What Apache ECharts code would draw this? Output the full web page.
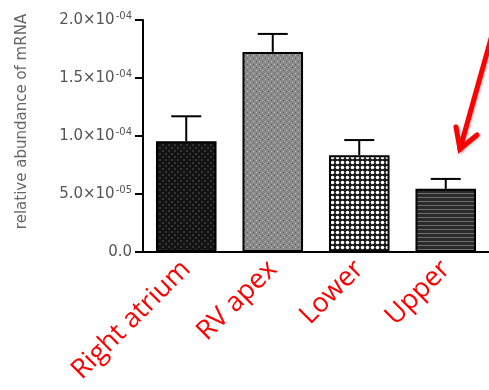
<!DOCTYPE html>
<html>
<head>
<meta charset="utf-8">
<script src="https://cdn.jsdelivr.net/npm/echarts@6/dist/echarts.min.js"></script>
<style>
html,body{margin:0;padding:0;background:#fff;}
#chart{width:489px;height:390px;}
</style>
</head>
<body>
<div id="chart"></div>
<script>
var categories = ['Right atrium', 'RV apex', 'Lower', 'Upper'];
var means = [9.55e-5, 1.725e-4, 8.35e-5, 5.45e-5];
var upperErr = [1.17e-4, 1.88e-4, 9.65e-5, 6.3e-5];
var yTicks = [0, 5e-5, 1e-4, 1.5e-4, 2e-4];
var yTickLabels = ['0.0', '5.0×10|-05', '1.0×10|-04', '1.5×10|-04', '2.0×10|-04'];

function makePattern(size, draw) {
  var c = document.createElement('canvas');
  c.width = size; c.height = size;
  var ctx = c.getContext('2d');
  draw(ctx);
  return { image: c, repeat: 'repeat' };
}
var patterns = [
  makePattern(6, function (ctx) {
    ctx.fillStyle = '#121212'; ctx.fillRect(0, 0, 6, 6);
    ctx.fillStyle = '#353535'; ctx.fillRect(0, 0, 2, 2); ctx.fillRect(3, 3, 2, 2);
  }),
  makePattern(6, function (ctx) {
    ctx.fillStyle = '#8a8a8a'; ctx.fillRect(0, 0, 6, 6);
    ctx.fillStyle = '#c4c4c4'; ctx.fillRect(1, 1, 1, 1); ctx.fillRect(4, 4, 1, 1);
    ctx.fillStyle = '#5a5a5a'; ctx.fillRect(4, 1, 1, 1); ctx.fillRect(1, 4, 1, 1);
  }),
  makePattern(5, function (ctx) {
    ctx.fillStyle = '#1a1a1a'; ctx.fillRect(0, 0, 5, 5);
    ctx.fillStyle = '#ffffff'; ctx.beginPath(); ctx.arc(2.5, 2.5, 1.8, 0, Math.PI * 2); ctx.fill();
  }),
  makePattern(4, function (ctx) {
    ctx.fillStyle = '#2a2a2a'; ctx.fillRect(0, 0, 4, 4);
    ctx.fillStyle = '#6e6e6e'; ctx.fillRect(0, 1, 4, 1);
  })
];

var barData = means.map(function (v, i) {
  return { value: v, itemStyle: { color: patterns[i] } };
});
var errData = means.map(function (v, i) { return [i, v, upperErr[i]]; });

var chart = echarts.init(document.getElementById('chart'), null, { renderer: 'canvas' });
chart.setOption({
  animation: false,
  backgroundColor: '#ffffff',
  grid: { left: 143, top: 20, width: 349, bottom: 138, containLabel: false },
  xAxis: {
    type: 'category',
    data: categories,
    axisLine: { lineStyle: { color: '#000', width: 2 } },
    axisTick: { alignWithLabel: true, length: 6, lineStyle: { color: '#000', width: 2 } },
    axisLabel: {
      rotate: 45, margin: 13, color: '#ff0000',
      fontFamily: 'Open Sans', fontSize: 27, interval: 0
    }
  },
  yAxis: {
    type: 'value', min: 0, max: 2e-4, interval: 5e-5,
    name: 'relative abundance of mRNA',
    nameLocation: 'middle', nameRotate: 90, nameGap: 113,
    nameTextStyle: { color: '#666', fontFamily: 'DejaVu Sans', fontSize: 15, padding: [0, 0, 0, 29] },
    splitLine: { show: false },
    axisLine: { show: true, lineStyle: { color: '#000', width: 2 } },
    axisTick: { show: true, length: 8, lineStyle: { color: '#000', width: 2 } },
    axisLabel: {
      margin: 11, color: '#555', fontFamily: 'DejaVu Sans', fontSize: 15,
      formatter: function (v) {
        var idx = -1;
        for (var i = 0; i < yTicks.length; i++) { if (Math.abs(yTicks[i] - v) < 1e-9) idx = i; }
        if (idx < 0) return '';
        var t = yTickLabels[idx].split('|');
        if (t.length === 1) return '{b|' + t[0] + '}';
        return '{b|' + t[0] + '}{s|' + t[1] + '}';
      },
      rich: {
        b: { fontSize: 15, color: '#555', fontFamily: 'DejaVu Sans', lineHeight: 18 },
        s: { fontSize: 10, color: '#555', fontFamily: 'DejaVu Sans', verticalAlign: 'top', lineHeight: 18, padding: [0, 0, 6, 1] }
      }
    }
  },
  series: [
    {
      type: 'bar', data: barData, barWidth: '70%',
      itemStyle: { borderColor: '#000', borderWidth: 2 }, z: 2
    },
    {
      type: 'custom', data: errData, z: 3,
      renderItem: function (params, api) {
        var i = api.value(0);
        var top = api.coord([i, api.value(2)]);
        var base = api.coord([i, api.value(1)]);
        var hw = 15;
        var st = { stroke: '#000', lineWidth: 2 };
        return {
          type: 'group',
          children: [
            { type: 'line', shape: { x1: top[0], y1: base[1], x2: top[0], y2: top[1] }, style: st },
            { type: 'line', shape: { x1: top[0] - hw, y1: top[1], x2: top[0] + hw, y2: top[1] }, style: st }
          ]
        };
      }
    }
  ],
  graphic: [
    {
      type: 'polyline', z: 10,
      shape: { points: [[494, 28], [460, 149]] },
      style: { stroke: '#ff0000', lineWidth: 5, lineCap: 'round', fill: null, shadowBlur: 3, shadowColor: 'rgba(0,0,0,0.25)', shadowOffsetX: 1, shadowOffsetY: 1 }
    },
    {
      type: 'polyline', z: 10,
      shape: { points: [[456, 127], [460, 149], [477, 135]] },
      style: { stroke: '#ff0000', lineWidth: 5, lineCap: 'round', lineJoin: 'miter', fill: null, shadowBlur: 3, shadowColor: 'rgba(0,0,0,0.25)', shadowOffsetX: 1, shadowOffsetY: 1 }
    }
  ]
});
</script>
</body>
</html>
